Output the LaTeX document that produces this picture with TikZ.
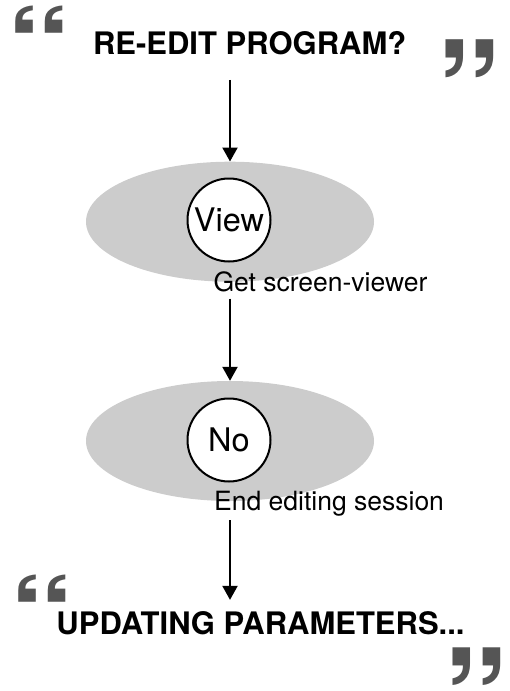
\documentclass[tikz,border=0pt]{standalone}
\usepackage{fontspec}
\setmainfont{TeX Gyre Heros}
\usepackage{graphicx}
\usetikzlibrary{shapes.geometric,arrows.meta}
\definecolor{qgray}{RGB}{85,85,85}
\definecolor{egray}{RGB}{204,204,204}
\begin{document}
\begin{tikzpicture}[x=1pt,y=-1pt,
  blob/.style={ellipse, fill=egray, minimum width=288pt, minimum height=120pt, inner sep=0pt},
  stepcircle/.style={circle, draw=black, line width=2pt, fill=white, minimum size=83pt, inner sep=0pt, font=\fontsize{32.5}{36}\selectfont},
  lab/.style={anchor=base west, inner sep=0pt, font=\fontsize{26.5}{30}\selectfont},
  heading/.style={anchor=base, inner sep=0pt, font=\fontsize{31}{36}\selectfont\bfseries},
  quotemark/.style={anchor=base west, inner sep=0pt, text=qgray, font=\fontsize{100}{100}\selectfont\bfseries},
  arr/.style={line width=2.2pt, -{Triangle[length=14pt,width=15pt]}}
]
\useasboundingbox (0,0) rectangle (509,691);

% quote marks
\node[quotemark] (q1) at (6.7,82) {\scalebox{1.30}[1.05]{“}};
\node[quotemark] (q2) at (436.7,146.9) {\scalebox{1.30}[1.465]{”}};
\node[quotemark] (q3) at (9,651.5) {\scalebox{1.30}[1.05]{“}};
\node[quotemark] (q4) at (443.4,753.5) {\scalebox{1.30}[1.45]{”}};

% headings
\node[heading] (t1) at (249.7,54.3) {RE-EDIT PROGRAM?};
\node[heading] (t2) at (260.5,634.3) {UPDATING PARAMETERS...};

% ellipses
\node[blob] (e1) at (230,221.7) {};
\node[blob] (e2) at (230,441) {};

% circles
\node[stepcircle] (c1) at (229,220) {View};
\node[stepcircle] (c2) at (229,440) {No};

% labels
\node[lab] (l1) at (213.3,291) {Get screen-viewer};
\node[lab] (l2) at (214,510) {End editing session};

% arrows
\draw[arr, shorten <=25pt] (e1.north |- t1.south) -- (e1.north);
\draw[arr, shorten <=7pt] (e2.north |- l1.south) -- (e2.north);
\draw[arr, shorten <=4.2pt, shorten >=11.3pt] (e2.south |- l2.south) -- (e2.south |- t2.north);
\end{tikzpicture}
\end{document}
